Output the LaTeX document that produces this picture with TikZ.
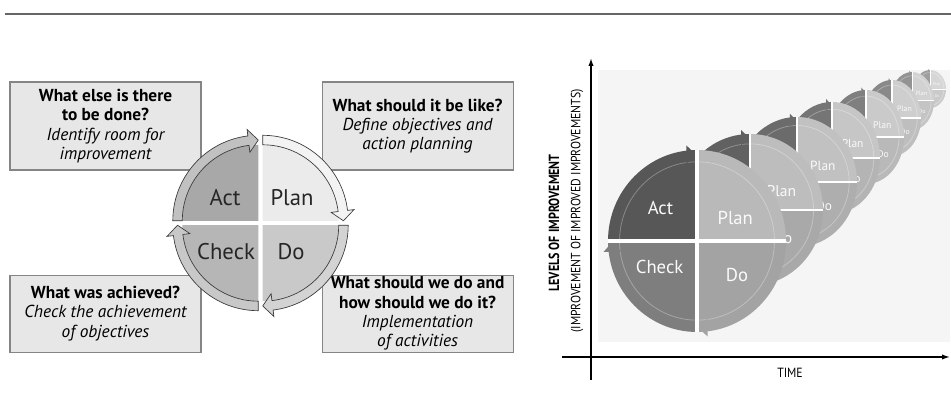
\documentclass[tikz,border=0pt]{standalone}
\usepackage{fontspec}
\setmainfont{PT Sans}
\newfontfamily\condfont[FakeStretch=0.88]{PT Sans}
\newfontfamily\condbold[FakeStretch=0.82]{PT Sans Bold}
\usetikzlibrary{
    arrows.meta,
    calc,
    positioning
}
\definecolor{boxfill}{HTML}{E7E7E7}
\definecolor{boxline}{HTML}{858585}
\definecolor{ringline}{HTML}{383838}
\definecolor{plansec}{HTML}{EBEBEB}
\definecolor{planring}{HTML}{F3F3F3}
\definecolor{dosec}{HTML}{C9C9C9}
\definecolor{doring}{HTML}{D3D3D3}
\definecolor{checksec}{HTML}{B6B6B6}
\definecolor{checkring}{HTML}{C8C8C8}
\definecolor{actsec}{HTML}{A8A8A8}
\definecolor{actring}{HTML}{C1C1C1}
\definecolor{wact}{HTML}{575757}
\definecolor{wplan}{HTML}{B9B9B9}
\definecolor{wdo}{HTML}{A3A3A3}
\definecolor{wcheck}{HTML}{7E7E7E}
\tikzset{
    qbox/.style={draw=boxline, fill=boxfill, line width=0.8pt, minimum width=143.25pt,
        align=center, inner sep=0pt, font=\fontsize{13}{14.5}\selectfont},
    ring/.style={draw=ringline, line width=0.5pt},
    hublabel/.style={anchor=base, font=\fontsize{17}{17}\selectfont, text=black!85},
    wlabel/.style={font=\fontsize{14}{14}\selectfont, text=white!96!gray},
    axis/.style={line width=1.1pt, -{Latex[length=6pt,width=4pt]}},
    axislab/.style={font=\condfont\fontsize{10}{12}\selectfont}
}

\begin{document}
\begin{tikzpicture}[x=0.75pt, y=0.75pt]
    \useasboundingbox (0, 0) rectangle (951, 417);
    \draw[line width=1.5pt, black!60] (5, 403) -- (951, 403);

    % question boxes
    \node[qbox, minimum height=66pt] (tl) at (105.5, 291)
        {{\bfseries What else is there}\\{\bfseries to be done?}\\
         {\itshape Identify room for}\\{\itshape improvement}};
    \node[qbox, minimum height=66pt, right=90pt of tl] (tr)
        {{\bfseries What should it be like?}\\{\itshape Define objectives and}\\
         {\itshape action planning}};
    \node[qbox, minimum height=57.75pt, below=78pt of tl] (bl)
        {{\bfseries What was achieved?}\\{\itshape Check the achievement}\\
         {\itshape of objectives}};
    \node[qbox, minimum height=57.75pt, right=90pt of bl] (br)
        {{\bfseries What should we do and}\\{\bfseries how should we do it?}\\
         {\itshape Implementation}\\{\itshape of activities}};

    % cycle
    \coordinate (hub) at (260.5, 194);
    \foreach \rot/\secfill/\ringfill in
        {0/plansec/planring, -90/dosec/doring, -180/checksec/checkring, -270/actsec/actring}{
        \begin{scope}[shift={(hub)}, rotate=\rot, shift={(2.2, 2.2)}]
            \fill[\secfill] (0, 0) -- (0:76) arc[start angle=0, end angle=90, radius=76] -- cycle;
            \filldraw[ring, fill=\ringfill]
                (90:85.5) arc[start angle=90, end angle=7, radius=85.5]
                -- (7:92) -- (0:80.75) -- (7:69) -- (7:76)
                arc[start angle=7, end angle=90, radius=76] -- cycle;
        \end{scope}
    }
    \node[hublabel] (act) at ($(hub)+(-35.5, 17)$) {Act};
    \node[hublabel] (plan) at ($(hub)+(31.5, 17)$) {Plan};
    \node[hublabel] (check) at ($(hub)+(-34.5, -37)$) {Check};
    \node[hublabel] (do) at ($(hub)+(30.5, -37)$) {Do};

    % wheels climbing the slope
    \fill[black!4] (598, 75) rectangle (950, 347);
    \foreach \cx/\cy/\rx/\ry/\k in {930/328/16/19/7, 912/316/22/29/6, 892/299/29/38/5,
        866/280/38/47/4, 832/259/48/56/3, 797/235/60/65/2, 750/207/73/76/1, 697/176/89/91/0}{
        \pgfmathtruncatemacro\keep{100-6*\k}
        \pgfmathsetmacro\sc{\ry/91}
        \pgfmathsetmacro\gw{0.026*\ry}
        \fill[wact!\keep!white] (\cx, \cy) -- ++(-\rx, 0)
            arc[start angle=180, end angle=90, x radius=\rx, y radius=\ry] -- cycle;
        \fill[wplan!\keep!white] (\cx, \cy) -- ++(\rx, 0)
            arc[start angle=0, end angle=90, x radius=\rx, y radius=\ry] -- cycle;
        \fill[wdo!\keep!white] (\cx, \cy) -- ++(\rx, 0)
            arc[start angle=0, end angle=-90, x radius=\rx, y radius=\ry] -- cycle;
        \fill[wcheck!\keep!white] (\cx, \cy) -- ++(-\rx, 0)
            arc[start angle=180, end angle=270, x radius=\rx, y radius=\ry] -- cycle;
        \draw[white, opacity=0.3, line width=0.6pt] (\cx, \cy)
            ellipse[x radius=0.87*\rx, y radius=0.87*\ry];
        % arrow ends of the ring
        \fill[wact!\keep!white] ({\cx-0.12*\rx}, {\cy+1.05*\ry}) -- ({\cx-0.01*\rx}, {\cy+0.95*\ry})
            -- ({\cx-0.12*\rx}, {\cy+0.85*\ry}) -- cycle;
        \fill[wcheck!\keep!white] ({\cx-1.05*\rx}, {\cy-0.12*\ry}) -- ({\cx-0.95*\rx}, {\cy-0.01*\ry})
            -- ({\cx-0.85*\rx}, {\cy-0.12*\ry}) -- cycle;
        \fill[wdo!\keep!white] ({\cx+0.12*\rx}, {\cy-1.05*\ry}) -- ({\cx+0.01*\rx}, {\cy-0.95*\ry})
            -- ({\cx+0.12*\rx}, {\cy-0.85*\ry}) -- cycle;
        \draw[white, line width=\gw] (\cx-\rx, \cy) -- (\cx+\rx, \cy);
        \draw[white, line width=\gw] (\cx, \cy-\ry) -- (\cx, \cy+\ry);
        \node[wlabel, scale=\sc] (wplan\k) at ({\cx+0.43*\rx}, {\cy+0.25*\ry}) {Plan};
        \node[wlabel, scale=\sc] (wdo\k) at ({\cx+0.45*\rx}, {\cy-0.37*\ry}) {Do};
        \ifnum\k=0
            \node[wlabel] (wact\k) at ({\cx-0.41*\rx}, {\cy+0.36*\ry}) {Act};
            \node[wlabel] (wcheck\k) at ({\cx-0.42*\rx}, {\cy-0.29*\ry}) {Check};
        \fi
    }

    % axes
    \coordinate (yfoot) at (591, 37);
    \coordinate (ytop) at (591, 359);
    \coordinate (xfoot) at (562, 60);
    \coordinate (xtip) at (950, 60);
    \draw[axis] (yfoot) -- (ytop);
    \draw[axis] (xfoot) -- (xtip);
    \node[axislab] (time) at (790, 44) {TIME};
    \node[axislab, rotate=90, font=\condbold\fontsize{11}{12}\selectfont] (levels)
        at (554, 194) {LEVELS OF IMPROVEMENT};
    \node[axislab, rotate=90] (levelsub) at (577, 206) {(IMPROVEMENT OF IMPROVED IMPROVEMENTS)};
\end{tikzpicture}
\end{document}
